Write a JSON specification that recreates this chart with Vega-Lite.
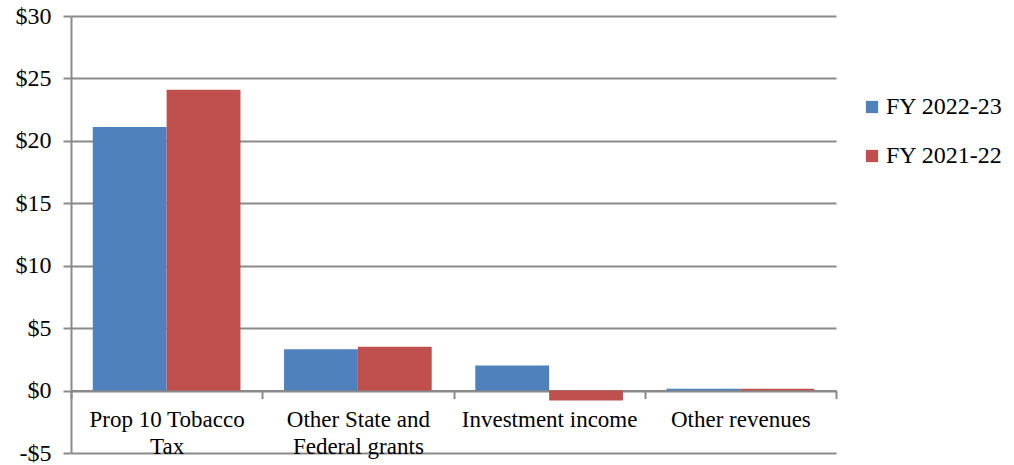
{
  "$schema": "https://vega.github.io/schema/vega-lite/v6.json",
  "width": 765,
  "height": 437,
  "autosize": {"type": "none"},
  "padding": {"left": 71, "top": 16, "right": 178, "bottom": 12},
  "background": "white",
  "config": {
    "view": {"stroke": null},
    "font": "Liberation Serif"
  },
  "data": {
    "values": [
      {"category": "Prop 10 Tobacco Tax", "year": "FY 2022-23", "value": 21.1},
      {"category": "Prop 10 Tobacco Tax", "year": "FY 2021-22", "value": 24.1},
      {"category": "Other State and Federal grants", "year": "FY 2022-23", "value": 3.3},
      {"category": "Other State and Federal grants", "year": "FY 2021-22", "value": 3.5},
      {"category": "Investment income", "year": "FY 2022-23", "value": 2.0},
      {"category": "Investment income", "year": "FY 2021-22", "value": -0.8},
      {"category": "Other revenues", "year": "FY 2022-23", "value": 0.15},
      {"category": "Other revenues", "year": "FY 2021-22", "value": 0.15}
    ]
  },
  "mark": {"type": "bar"},
  "encoding": {
    "x": {
      "field": "category",
      "type": "nominal",
      "sort": null,
      "scale": {"paddingInner": 0, "paddingOuter": 0},
      "axis": {
        "title": null,
        "offset": -62.4,
        "tickBand": "extent",
        "domainColor": "#8a8a8a",
        "domainWidth": 2,
        "tickColor": "#8a8a8a",
        "tickWidth": 2,
        "tickSize": 8,
        "labelAngle": 0,
        "labelFont": "Liberation Serif",
        "labelFontSize": 23,
        "labelColor": "black",
        "labelPadding": 10,
        "labelLineHeight": 27,
        "labelExpr": "datum.label == 'Prop 10 Tobacco Tax' ? ['Prop 10  Tobacco', 'Tax'] : datum.label == 'Other State and Federal grants' ? ['Other State and', 'Federal grants'] : datum.label"
      }
    },
    "xOffset": {
      "field": "year",
      "type": "nominal",
      "sort": ["FY 2022-23", "FY 2021-22"],
      "scale": {"paddingInner": 0, "paddingOuter": 0.295}
    },
    "y": {
      "field": "value",
      "type": "quantitative",
      "scale": {"domain": [-5, 30], "nice": false, "zero": false},
      "axis": {
        "title": null,
        "values": [-5, 0, 5, 10, 15, 20, 25, 30],
        "grid": true,
        "gridColor": "#8a8a8a",
        "gridWidth": 2,
        "domainColor": "#8a8a8a",
        "domainWidth": 2,
        "tickColor": "#8a8a8a",
        "tickWidth": 2,
        "tickSize": 8,
        "labelFont": "Liberation Serif",
        "labelFontSize": 24,
        "labelColor": "black",
        "labelPadding": 12,
        "labelExpr": "datum.value < 0 ? '-$' + abs(datum.value) : '$' + datum.value"
      }
    },
    "color": {
      "field": "year",
      "type": "nominal",
      "sort": ["FY 2022-23", "FY 2021-22"],
      "scale": {"domain": ["FY 2022-23", "FY 2021-22"], "range": ["#4f81bd", "#c0504d"]},
      "legend": {
        "title": null,
        "orient": "none",
        "legendX": 789,
        "legendY": 79,
        "padding": 0,
        "symbolType": "square",
        "symbolSize": 150,
        "symbolStrokeWidth": 0,
        "symbolOpacity": 1,
        "labelFont": "Liberation Serif",
        "labelFontSize": 24,
        "labelColor": "black",
        "labelOffset": 2,
        "rowPadding": 25
      }
    }
  }
}
